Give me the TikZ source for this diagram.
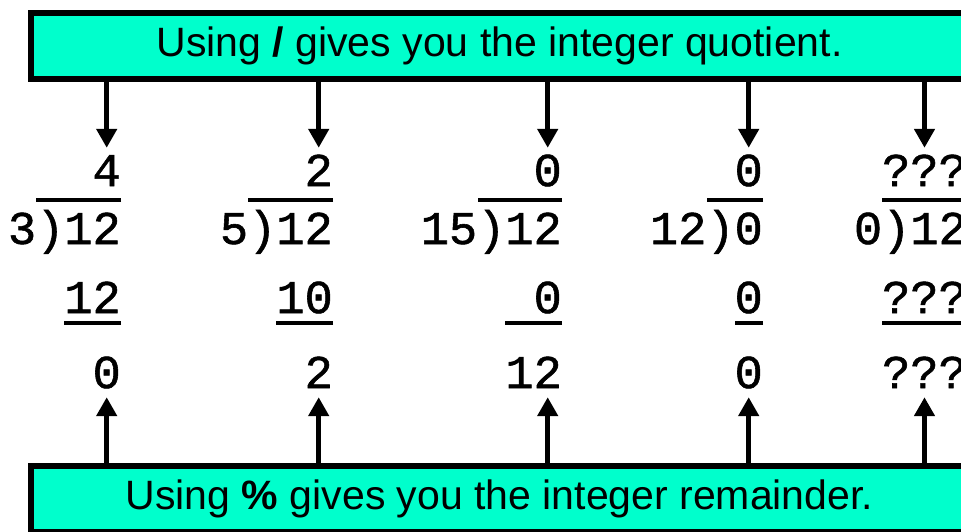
\documentclass[tikz,border=0pt]{standalone}
\usepackage{fontspec}
\setmainfont{Liberation Sans}
\newfontfamily\monofont[FakeBold=1.2]{Liberation Mono}
\usetikzlibrary{arrows.meta}
\definecolor{aqua}{RGB}{0,255,204}

\begin{document}
\begin{tikzpicture}[x=1pt,y=-1pt,
banner/.style={draw=black,line width=6pt,fill=aqua,minimum width=937pt,minimum height=66pt,inner sep=0pt,font=\fontsize{41}{49}\selectfont},
num/.style={anchor=base east,inner sep=0pt,text height=26pt,text depth=0pt,font=\monofont\fontsize{47}{56}\selectfont},
arr/.style={-{Triangle[width=20pt,length=19pt]},line width=5pt},
bar/.style={line width=4pt}]
\useasboundingbox (0,0) rectangle (961,531);
\node[banner] (qbox) at (499.5,46) {Using \textbf{/} gives you the integer quotient.};
\node[banner] (rbox) at (499.5,499) {Using \textbf{\%} gives you the integer remainder.};
% 12 / 3
\node[num] (q1) at (121,186) {4};
\node[num] (d1) at (121,244) {3)12};
\node[num] (s1) at (121,313) {12};
\node[num] (r1) at (121,388) {0};
% 12 / 5
\node[num] (q2) at (333,186) {2};
\node[num] (d2) at (333,244) {5)12};
\node[num] (s2) at (333,313) {10};
\node[num] (r2) at (333,388) {2};
% 12 / 15
\node[num] (q3) at (562,186) {0};
\node[num] (d3) at (562,244) {15)12};
\node[num] (s3) at (562,313) {0};
\node[num] (r3) at (562,388) {12};
% 0 / 12
\node[num] (q4) at (763,186) {0};
\node[num] (d4) at (763,244) {12)0};
\node[num] (s4) at (763,313) {0};
\node[num] (r4) at (763,388) {0};
% 12 / 0
\node[num] (q5) at (967,186) {???};
\node[num] (d5) at (967,244) {0)12};
\node[num] (s5) at (967,313) {???};
\node[num] (r5) at (967,388) {???};
% division bars and subtraction lines
\draw[bar] ([yshift=-14pt]q1.base east) -- ++(-85,0);
\draw[bar] ([yshift=-10pt]s1.base east) -- ++(-57,0);
\draw[bar] ([yshift=-14pt]q2.base east) -- ++(-85,0);
\draw[bar] ([yshift=-10pt]s2.base east) -- ++(-57,0);
\draw[bar] ([yshift=-14pt]q3.base east) -- ++(-84,0);
\draw[bar] ([yshift=-10pt]s3.base east) -- ++(-57,0);
\draw[bar] ([yshift=-14pt]q4.base east) -- ++(-56,0);
\draw[bar] ([yshift=-10pt]s4.base east) -- ++(-28,0);
\draw[bar] ([yshift=-14pt]q5.base east) -- ++(-85,0);
\draw[bar] ([yshift=-10pt]s5.base east) -- ++(-85,0);
% arrows
\draw[arr,shorten >=12pt] (qbox.south -| q1.north) -- (q1.north);
\draw[arr,shorten >=12pt] (qbox.south -| q2.north) -- (q2.north);
\draw[arr,shorten >=12pt] (qbox.south -| q3.north) -- (q3.north);
\draw[arr,shorten >=12pt] (qbox.south -| q4.north) -- (q4.north);
\draw[arr,shorten >=12pt] (qbox.south -| q5.north) -- (q5.north);
\draw[arr,shorten >=9pt] (rbox.north -| q1.north) -- (r1.south -| q1.north);
\draw[arr,shorten >=9pt] (rbox.north -| q2.north) -- (r2.south -| q2.north);
\draw[arr,shorten >=9pt] (rbox.north -| q3.north) -- (r3.south -| q3.north);
\draw[arr,shorten >=9pt] (rbox.north -| q4.north) -- (r4.south -| q4.north);
\draw[arr,shorten >=9pt] (rbox.north -| q5.north) -- (r5.south -| q5.north);
\end{tikzpicture}
\end{document}
